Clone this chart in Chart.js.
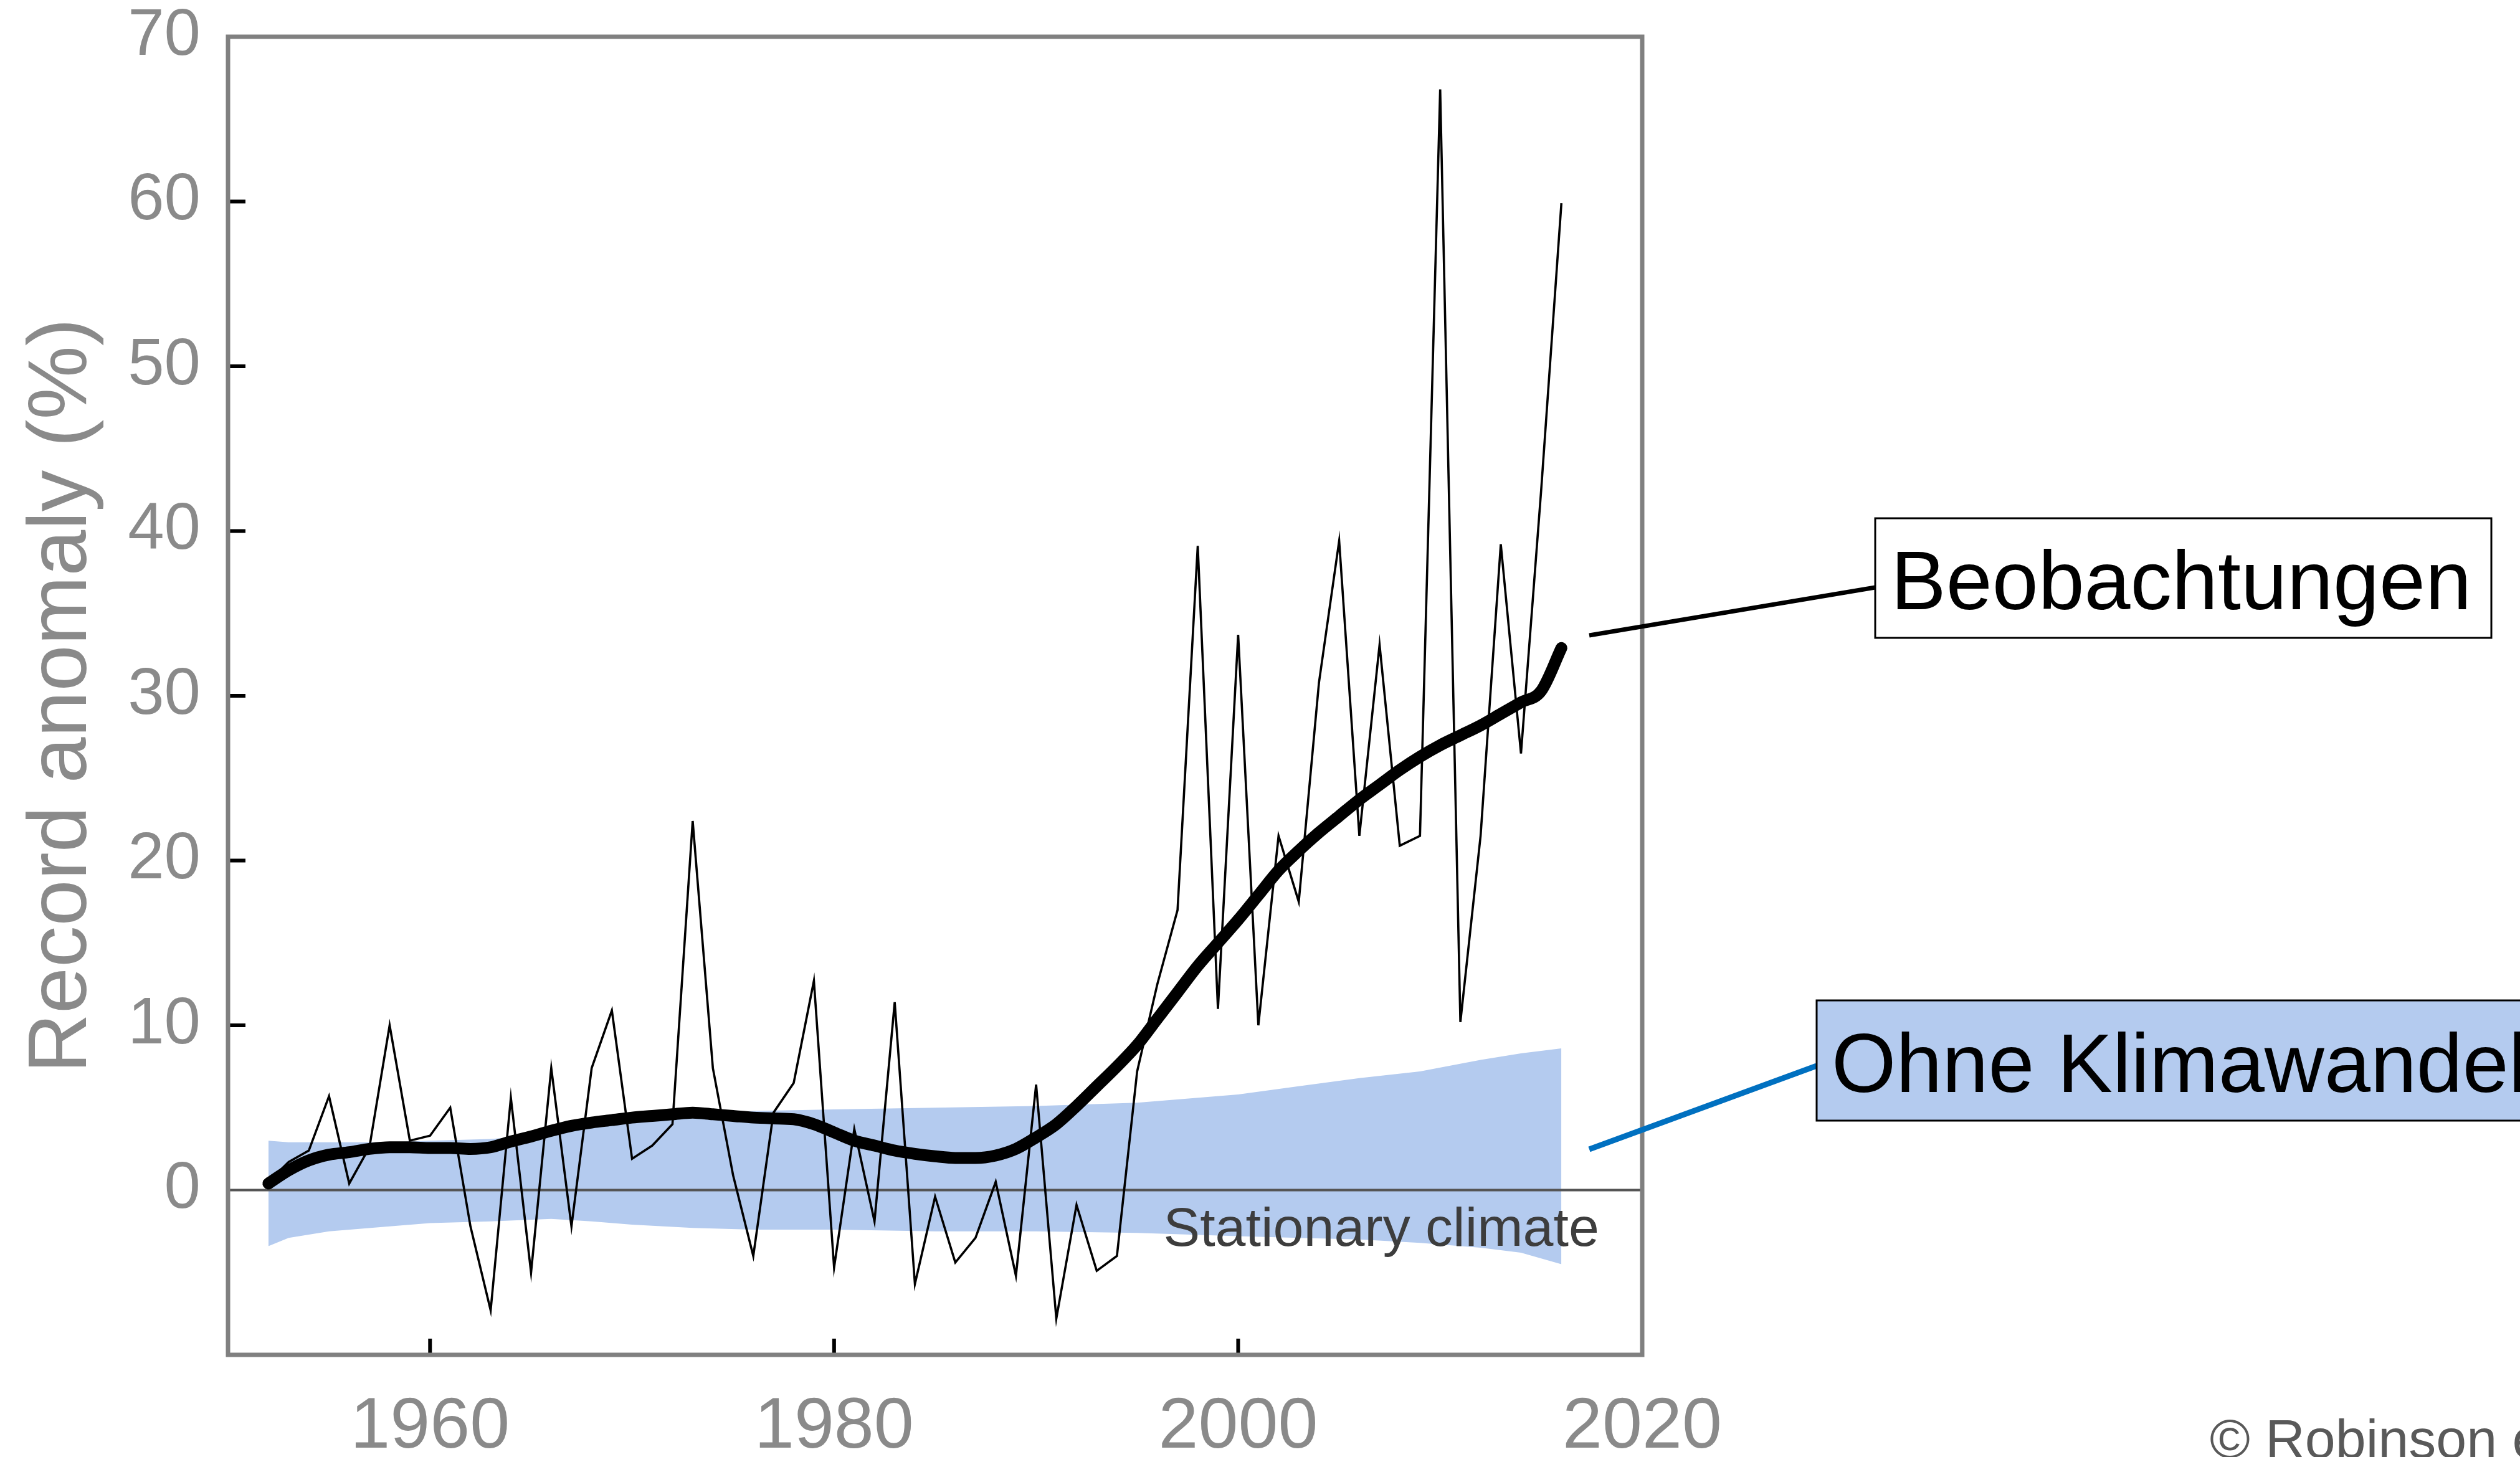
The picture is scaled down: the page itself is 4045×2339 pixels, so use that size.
<!DOCTYPE html>
<html>
<head>
<meta charset="utf-8">
<script src="https://cdn.jsdelivr.net/npm/chart.js@4.4.1/dist/chart.umd.min.js"></script>
<style>
  html, body { margin: 0; padding: 0; background: #fff; }
  #wrap { width: 4045px; height: 2339px; }
</style>
</head>
<body>
<div id="wrap"><canvas id="recordChart" width="4045" height="2339"></canvas></div>
<script>
// Years of the record series
const years = [
    1952, 1953, 1954, 1955, 1956, 1957, 1958, 1959, 1960, 1961,
    1962, 1963, 1964, 1965, 1966, 1967, 1968, 1969, 1970, 1971,
    1972, 1973, 1974, 1975, 1976, 1977, 1978, 1979, 1980, 1981,
    1982, 1983, 1984, 1985, 1986, 1987, 1988, 1989, 1990, 1991,
    1992, 1993, 1994, 1995, 1996, 1997, 1998, 1999, 2000, 2001,
    2002, 2003, 2004, 2005, 2006, 2007, 2008, 2009, 2010, 2011,
    2012, 2013, 2014, 2015, 2016
];

// Yearly record anomaly (%) - thin line
const observed = [
    0.5, 1.7, 2.4, 5.7, 0.4, 2.6, 10.0, 3.0, 3.3, 5.0,
    -2.2, -7.3, 5.6, -5.0, 7.4, -2.2, 7.4, 10.9, 1.9, 2.7,
    4.0, 22.4, 7.4, 0.9, -4.0, 4.7, 6.5, 12.7, -4.7, 3.7,
    -1.9, 11.4, -5.7, -0.4, -4.4, -2.9, 0.5, -5.2, 6.4, -7.8,
    -0.9, -4.9, -4.0, 7.2, 12.5, 17.0, 39.1, 11.0, 33.7, 10.0,
    21.5, 17.5, 30.8, 39.4, 21.5, 33.1, 20.9, 21.5, 66.8, 10.2,
    21.5, 39.2, 26.5, 42.5, 59.9
];

// Smoothed trend (%) - thick line
const smoothed = [
    0.4, 1.2, 1.8, 2.15, 2.3, 2.5, 2.6, 2.6, 2.55, 2.55,
    2.5, 2.6, 2.95, 3.25, 3.6, 3.9, 4.1, 4.25, 4.4, 4.5,
    4.6, 4.7, 4.6, 4.5, 4.4, 4.35, 4.3, 4.0, 3.5, 3.0,
    2.7, 2.4, 2.2, 2.05, 1.95, 1.95, 2.1, 2.5, 3.2, 4.0,
    5.1, 6.3, 7.5, 8.8, 10.4, 12.0, 13.6, 15.0, 16.4, 17.9,
    19.4, 20.6, 21.7, 22.7, 23.7, 24.6, 25.5, 26.3, 27.0, 27.6,
    28.2, 28.9, 29.6, 30.3, 32.9
];

// Stationary climate range (blue band)
const bandYears = [1952, 1953, 1955, 1958, 1960, 1963, 1966, 1968, 1970, 1973, 1976,
                   1980, 1985, 1990, 1995, 2000, 2003, 2006, 2009, 2012, 2014, 2016];
const bandUpper = [3.0, 2.9, 2.9, 2.9, 3.0, 3.1, 3.4, 3.8, 4.2, 4.6, 4.8,
                   4.9, 5.0, 5.1, 5.3, 5.8, 6.3, 6.8, 7.2, 7.9, 8.3, 8.6];
const bandLower = [-3.4, -2.9, -2.5, -2.2, -2.0, -1.9, -1.75, -1.9, -2.1, -2.3, -2.4,
                   -2.4, -2.5, -2.5, -2.6, -2.8, -2.9, -3.0, -3.2, -3.5, -3.8, -4.5];

const xTickValues = [1960, 1980, 2000, 2020];
const yTickValues = [0, 10, 20, 30, 40, 50, 60, 70];

const FONT = '"Liberation Sans", Arial, Helvetica, sans-serif';
const AXIS_GREY = '#8a8a8a';
const BAND_BLUE = '#b4cbef';

Chart.defaults.font.family = FONT;

function toPoints(xs, ys) {
    return xs.map((x, i) => ({ x: x, y: ys[i] }));
}

// Grey frame and short inward tick marks
const frameAndTicks = {
    id: 'frameAndTicks',
    afterDatasetsDraw(chart) {
        const { ctx, chartArea: a, scales: { x, y } } = chart;
        ctx.save();
        ctx.strokeStyle = '#000';
        ctx.lineWidth = 6;
        yTickValues.forEach(v => {
            if (v <= 0 || v >= 70) return;
            const py = y.getPixelForValue(v);
            ctx.beginPath();
            ctx.moveTo(a.left, py);
            ctx.lineTo(a.left + 28, py);
            ctx.stroke();
        });
        xTickValues.forEach(v => {
            if (v >= 2020) return;
            const px = x.getPixelForValue(v);
            ctx.beginPath();
            ctx.moveTo(px, a.bottom);
            ctx.lineTo(px, a.bottom - 26);
            ctx.stroke();
        });
        ctx.strokeStyle = '#808080';
        ctx.lineWidth = 7;
        ctx.strokeRect(a.left, a.top, a.right - a.left, a.bottom - a.top);
        ctx.restore();
    }
};

// Labels and call-out boxes
const callouts = {
    id: 'callouts',
    afterDraw(chart) {
        const { ctx, scales: { x, y } } = chart;
        ctx.save();

        // "Stationary climate" under the zero line
        ctx.fillStyle = '#3d3d3d';
        ctx.font = '88px ' + FONT;
        ctx.textBaseline = 'alphabetic';
        ctx.fillText('Stationary climate', x.getPixelForValue(1996.3), y.getPixelForValue(-3.4));

        // Beobachtungen
        ctx.strokeStyle = '#000';
        ctx.lineWidth = 7;
        ctx.beginPath();
        ctx.moveTo(2551, 1020);
        ctx.lineTo(3010, 943);
        ctx.stroke();
        ctx.fillStyle = '#fff';
        ctx.fillRect(3010, 832, 989, 192);
        ctx.lineWidth = 3;
        ctx.strokeRect(3010, 832, 989, 192);
        ctx.fillStyle = '#000';
        ctx.font = '133px ' + FONT;
        ctx.fillText('Beobachtungen', 3035, 978);

        // Ohne Klimawandel
        ctx.strokeStyle = '#0070c0';
        ctx.lineWidth = 9;
        ctx.beginPath();
        ctx.moveTo(2551, 1845);
        ctx.lineTo(2916, 1711);
        ctx.stroke();
        ctx.fillStyle = BAND_BLUE;
        ctx.fillRect(2916, 1606, 1200, 193);
        ctx.strokeStyle = '#000';
        ctx.lineWidth = 3;
        ctx.strokeRect(2916, 1606, 1200, 193);
        ctx.fillStyle = '#000';
        ctx.fillText('Ohne Klimawandel', 2940, 1753);

        // credit
        ctx.fillStyle = '#595959';
        ctx.font = '88px ' + FONT;
        ctx.fillText('\u00A9 Robinson et al.', 3547, 2340);

        ctx.restore();
    }
};

const data = {
    datasets: [
        {
            label: 'smoothed',
            data: toPoints(years, smoothed),
            borderColor: '#000',
            borderWidth: 19,
            borderCapStyle: 'round',
            borderJoinStyle: 'round',
            cubicInterpolationMode: 'monotone',
            pointRadius: 0,
            fill: false
        },
        {
            label: 'observed',
            data: toPoints(years, observed),
            borderColor: '#000',
            borderWidth: 3.6,
            tension: 0,
            pointRadius: 0,
            fill: false
        },
        {
            label: 'zero',
            data: [{ x: 1950, y: 0 }, { x: 2020, y: 0 }],
            borderColor: '#555',
            borderWidth: 4,
            pointRadius: 0,
            fill: false
        },
        {
            label: 'band upper',
            data: toPoints(bandYears, bandUpper),
            borderWidth: 0,
            borderColor: 'rgba(0,0,0,0)',
            backgroundColor: BAND_BLUE,
            pointRadius: 0,
            fill: '+1'
        },
        {
            label: 'band lower',
            data: toPoints(bandYears, bandLower),
            borderWidth: 0,
            borderColor: 'rgba(0,0,0,0)',
            pointRadius: 0,
            fill: false
        }
    ]
};

const config = {
    type: 'line',
    data: data,
    options: {
        responsive: false,
        animation: false,
        devicePixelRatio: 1,
        layout: { padding: { left: 0, top: 59, right: 1409, bottom: 0 } },
        scales: {
            x: {
                type: 'linear',
                min: 1950,
                max: 2020,
                afterBuildTicks: scale => { scale.ticks = xTickValues.map(v => ({ value: v })); },
                afterFit: scale => { scale.height = 164; },
                grid: { display: false, drawTicks: false },
                border: { display: false },
                ticks: {
                    autoSkip: false,
                    maxRotation: 0,
                    padding: 48,
                    color: AXIS_GREY,
                    font: { size: 115, lineHeight: 1.2 },
                    callback: v => String(v)
                }
            },
            y: {
                min: -10,
                max: 70,
                afterBuildTicks: scale => { scale.ticks = yTickValues.map(v => ({ value: v })); },
                afterFit: scale => { scale.width = 366; },
                grid: { display: false, drawTicks: false },
                border: { display: false },
                ticks: {
                    padding: 44,
                    color: AXIS_GREY,
                    // small line height keeps the top label from pushing the plot down
                    font: { size: 105, lineHeight: 0.2 },
                    callback: v => String(v)
                },
                title: {
                    display: true,
                    text: 'Record anomaly (%)',
                    color: AXIS_GREY,
                    font: { size: 133, lineHeight: 1.2 },
                    padding: { top: 22, bottom: 0 }
                }
            }
        },
        plugins: {
            legend: { display: false },
            tooltip: { enabled: false }
        }
    },
    plugins: [frameAndTicks, callouts]
};

const chart = new Chart(document.getElementById('recordChart').getContext('2d'), config);
</script>
</body>
</html>
